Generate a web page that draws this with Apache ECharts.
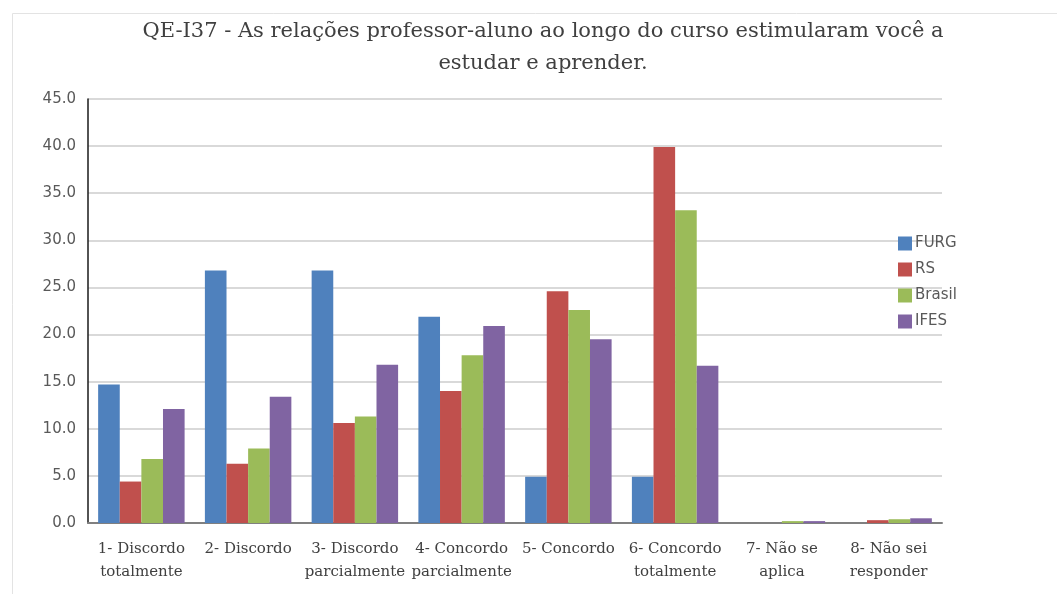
<!DOCTYPE html>
<html>
<head>
<meta charset="utf-8">
<script src="https://cdn.jsdelivr.net/npm/echarts@6/dist/echarts.min.js"></script>
<style>
  html, body { margin: 0; padding: 0; background: #fff; }
  #chart { width: 1057px; height: 594px; }
</style>
</head>
<body>
<div id="chart"></div>
<script>
// categorias do eixo x
var categories = [
  '1- Discordo\ntotalmente',
  '2- Discordo',
  '3- Discordo\nparcialmente',
  '4- Concordo\nparcialmente',
  '5- Concordo',
  '6- Concordo\ntotalmente',
  '7- Não se\naplica',
  '8- Não sei\nresponder'
];

// percentuais por grupo
var furg   = [14.7, 26.8, 26.8, 21.9, 4.9, 4.9, 0.0, 0.0];
var rs     = [4.4, 6.3, 10.6, 14.0, 24.6, 39.9, 0.0, 0.3];
var brasil = [6.8, 7.9, 11.3, 17.8, 22.6, 33.2, 0.2, 0.4];
var ifes   = [12.1, 13.4, 16.8, 20.9, 19.5, 16.7, 0.2, 0.5];

var chart = echarts.init(document.getElementById('chart'));

function bar(name, data, color) {
  return {
    name: name,
    type: 'bar',
    data: data,
    barGap: '0%',
    barCategoryGap: '19%',
    itemStyle: { color: color }
  };
}

chart.setOption({
  animation: false,
  title: {
    text: 'QE-I37 - As relações professor-aluno ao longo do curso estimularam você a\nestudar e aprender.',
    left: 538,
    top: 11,
    textAlign: 'center',
    textStyle: {
      fontFamily: 'DejaVu Serif',
      fontWeight: 'normal',
      fontSize: 21,
      color: '#404040',
      lineHeight: 32
    }
  },
  graphic: [{
    type: 'rect',
    shape: { x: 12.5, y: 13.5, width: 1100, height: 700 },
    style: { fill: 'none', stroke: '#e3e3e3', lineWidth: 1 },
    silent: true
  }],
  legend: {
    orient: 'vertical',
    left: 893,
    top: 231,
    itemWidth: 14,
    itemHeight: 14,
    itemGap: 11,
    icon: 'rect',
    textStyle: { fontFamily: 'DejaVu Sans', fontSize: 15, color: '#595959', padding: [0, 0, 0, -2] },
    data: ['FURG', 'RS', 'Brasil', 'IFES']
  },
  grid: { left: 88, right: 115, top: 99, bottom: 71 },
  xAxis: {
    type: 'category',
    data: categories,
    axisTick: { show: false },
    axisLine: { lineStyle: { color: '#808080', width: 2 } },
    axisLabel: {
      interval: 0,
      margin: 15,
      fontFamily: 'DejaVu Serif',
      fontSize: 15,
      lineHeight: 23,
      color: '#404040'
    }
  },
  yAxis: {
    type: 'value',
    min: 0,
    max: 45,
    interval: 5,
    axisLine: { show: true, lineStyle: { color: '#1a1a1a', width: 1.5 } },
    axisTick: { show: false },
    splitLine: { lineStyle: { color: '#d9d9d9', width: 2 } },
    axisLabel: {
      margin: 12,
      fontFamily: 'DejaVu Sans',
      fontSize: 15,
      color: '#595959',
      formatter: function (v) { return v.toFixed(1); }
    }
  },
  series: [
    bar('FURG', furg, '#4f81bd'),
    bar('RS', rs, '#c0504d'),
    bar('Brasil', brasil, '#9bbb59'),
    bar('IFES', ifes, '#8064a2')
  ]
});
</script>
</body>
</html>
